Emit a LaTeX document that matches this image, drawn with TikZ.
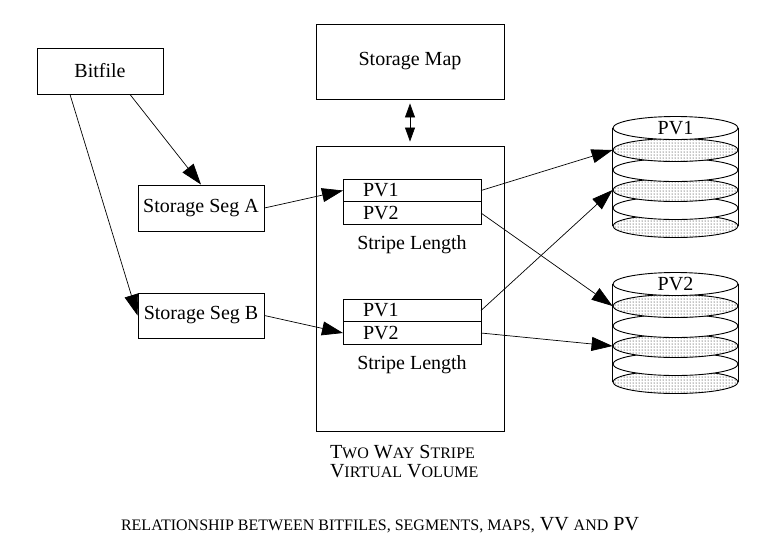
\documentclass[tikz,border=0pt]{standalone}
\usepackage{fontspec}
\setmainfont{Liberation Serif}
\usetikzlibrary{%
  arrows.meta,%
  shapes.geometric,% wg. ellipse
  positioning,% wg. " of "
  patterns% dotted bands
}
\newcommand{\smallcap}[1]{{\fontsize{16}{18}\selectfont #1}}

\begin{document}
\begin{tikzpicture}
[x=1pt, y=-1pt, draw=black, line width=0.9pt,
font=\fontsize{20}{24}\selectfont,
block/.style={rectangle, draw, fill=white, inner sep=0pt, minimum width=126pt, minimum height=46pt},
bigblock/.style={rectangle, draw, fill=white, inner sep=0pt, minimum width=188pt},
row/.style={rectangle, draw, fill=white, outer sep=0pt, inner ysep=0pt, inner xsep=20pt, text width=98pt, align=left, minimum height=22.5pt},
band0/.style={ellipse, draw, fill=white, inner sep=0pt, minimum width=125pt, minimum height=23pt},
band1/.style={ellipse, draw, preaction={fill=white}, pattern=dots, inner sep=0pt, minimum width=125pt, minimum height=23pt},
link/.style={line width=0.7pt, -{Triangle[length=21pt,width=14pt]}},
both/.style={line width=0.7pt, {Triangle[length=14pt,width=10pt]}-{Triangle[length=14pt,width=10pt]}, shorten <=4pt, shorten >=4pt}
]
\useasboundingbox (0,0) rectangle (784,542);

\node[block] (bitfile) at (100,71) {Bitfile};
\node[block] (sega) at (201,208) {Storage Seg A};
\node[block,minimum height=45pt] (segb) at (201,315.5) {Storage Seg B};

\node[bigblock,minimum height=75pt] (storagemap) at (410,61.5) {Storage Map};
\node[bigblock,minimum height=285pt] (vv) at (410,288.5) {};

\node[row] (s1a) at (412,190.5) {PV1};
\node[row,below=0pt of s1a] (s1b) {PV2};
\node[inner sep=0pt,below=11pt of s1b] (length1) {Stripe Length};

\node[row] (s2a) at (412,310.5) {PV1};
\node[row,below=0pt of s2a] (s2b) {PV2};
\node[inner sep=0pt,below=11pt of s2b] (length2) {Stripe Length};

\node[inner sep=0pt, anchor=north west, align=left, font=\fontsize{20}{19}\selectfont]
  (vvname) at ([xshift=14pt,yshift=-13pt]vv.south west)
  {T\smallcap{WO} W\smallcap{AY} S\smallcap{TRIPE}\\V\smallcap{IRTUAL} V\smallcap{OLUME}};

% disk PV1, bottom band first
\node[band1] (d1f) at (675.5,226) {};
\node[band0] (d1e) at (675.5,208) {};
\node[band1] (d1d) at (675.5,190) {};
\node[band0] (d1c) at (675.5,170) {};
\node[band1] (d1b) at (675.5,150) {};
\node[band0] (d1a) at (675.5,128) {PV1};
\draw (d1a.west) -- (d1f.west);
\draw (d1a.east) -- (d1f.east);

% disk PV2
\node[band1] (d2f) at (675.5,382) {};
\node[band0] (d2e) at (675.5,364) {};
\node[band1] (d2d) at (675.5,346) {};
\node[band0] (d2c) at (675.5,326) {};
\node[band1] (d2b) at (675.5,306) {};
\node[band0] (d2a) at (675.5,284) {PV2};
\draw (d2a.west) -- (d2f.west);
\draw (d2a.east) -- (d2f.east);

\draw[link] ([xshift=30pt]bitfile.south) -- (sega.north);
\draw[link] ([xshift=-30pt]bitfile.south) -- (segb.west);
\draw[link] (sega.east) -- (s1a.west);
\draw[link] (segb.east) -- (s2b.west);
\draw[both] (storagemap.south) -- (vv.north);

\draw[link] (s1a.east) -- (d1b.west);
\draw[link] (s1b.east) -- (d2b.west);
\draw[link] (s2a.east) -- (d1d.west);
\draw[link] (s2b.east) -- (d2d.west);

\node[inner sep=0pt, anchor=base] (caption) at (380,530)
  {\smallcap{RELATIONSHIP BETWEEN BITFILES, SEGMENTS, MAPS,} VV \smallcap{AND} PV};
\end{tikzpicture}
\end{document}
